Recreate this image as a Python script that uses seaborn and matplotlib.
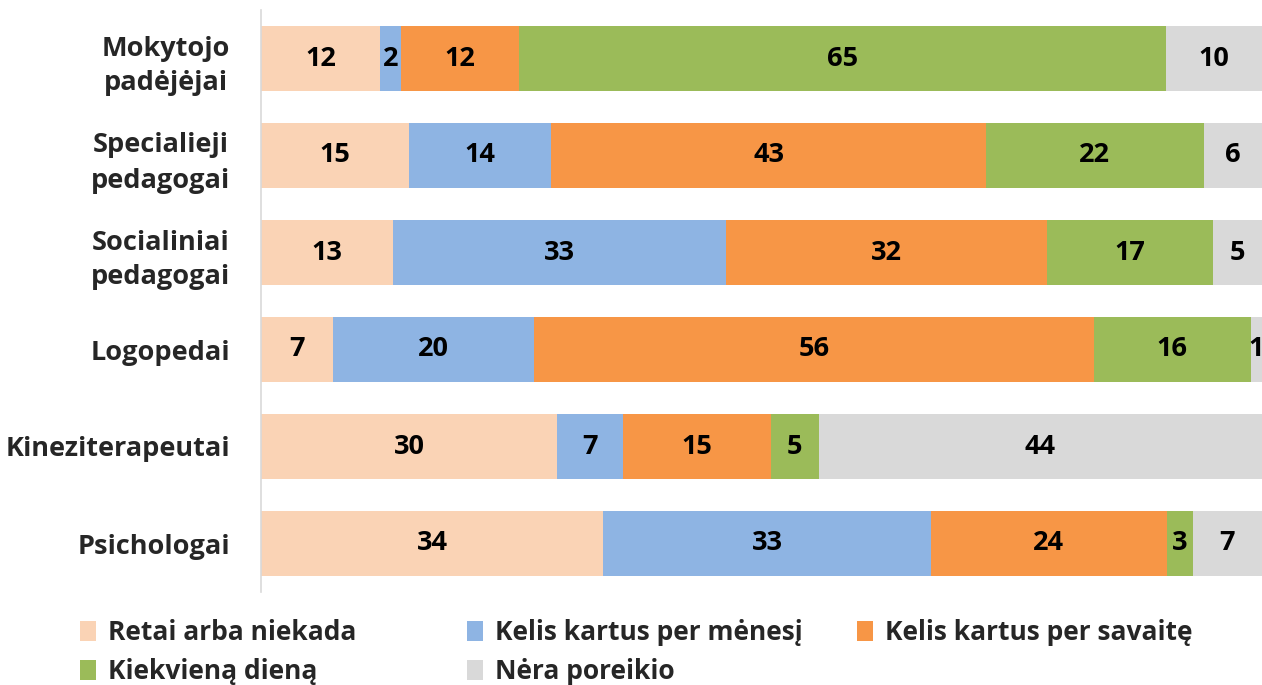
import matplotlib
matplotlib.use("Agg")
import matplotlib.pyplot as plt
import numpy as np
import pandas as pd
import seaborn as sns
from matplotlib.patches import Patch

groups = ["Mokytojo\npadėjėjai", "Specialieji\npedagogai", "Socialiniai\npedagogai",
          "Logopedai", "Kineziterapeutai", "Psichologai"]
series = ["Retai arba niekada", "Kelis kartus per mėnesį", "Kelis kartus per savaitę",
          "Kiekvieną dieną", "Nėra poreikio"]
colors = ["#FAD3B5", "#8EB4E3", "#F79646", "#9BBB59", "#D9D9D9"]

retai = [11.9, 14.8, 13.2, 7.2, 29.6, 34.2]
per_menesi = [2.1, 14.2, 33.3, 20.1, 6.6, 32.7]
per_savaite = [11.8, 43.4, 32.0, 55.9, 14.7, 23.6]
kasdien = [64.6, 21.8, 16.6, 15.7, 4.8, 2.6]
nera = [9.6, 5.8, 4.9, 1.1, 44.3, 6.9]

vals = np.array([retai, per_menesi, per_savaite, kasdien, nera])
cum = vals.cumsum(axis=0)
left = cum - vals

sns.set_theme(style="white")
plt.rcParams["font.family"] = ["Open Sans", "DejaVu Sans"]

fig = plt.figure(figsize=(12.62, 6.85), dpi=100)
ax = fig.add_axes([261 / 1262, 93 / 685, 1001 / 1262, 582 / 685])

# stacked look: draw cumulative totals from the last series back to the first
for i in range(len(series) - 1, -1, -1):
    df = pd.DataFrame({"grupe": groups, "suma": cum[i]})
    sns.barplot(data=df, y="grupe", x="suma", orient="h", color=colors[i],
                width=0.66, saturation=1, ax=ax, linewidth=0)

for i in range(len(series)):
    for j in range(len(groups)):
        ax.text(left[i, j] + vals[i, j] / 2, j, f"{vals[i, j]:.0f}",
                ha="center", va="center", fontsize=19.5, fontweight="bold",
                color="black")

ax.set_xlim(0, 100)
ax.set_ylim(len(groups) - 0.5, -0.5)
ax.set_xlabel("")
ax.set_ylabel("")
ax.set_xticks([])
ax.tick_params(axis="y", length=0, pad=22)
for lab in ax.get_yticklabels():
    lab.set_fontsize(19.5)
    lab.set_fontweight("bold")
    lab.set_multialignment("center")
    lab.set_linespacing(1.45)
for side in ["top", "right", "bottom"]:
    ax.spines[side].set_visible(False)
ax.spines["left"].set_color("#D9D9D9")
ax.spines["left"].set_linewidth(1.2)

# legend columns placed like the original
cols = [[0, 3], [1, 4], [2]]
xs = [80, 467, 857]
for col, x in zip(cols, xs):
    handles = [Patch(facecolor=colors[k], edgecolor="none") for k in col]
    fig.legend(handles, [series[k] for k in col], loc="upper left",
               bbox_to_anchor=(x / 1262, 1 - 619 / 685), frameon=False,
               prop={"size": 19, "weight": "bold"}, handlelength=0.62,
               handleheight=0.8, handletextpad=0.45, labelspacing=0.45,
               borderaxespad=0, borderpad=0)

fig.savefig("out.png", dpi=100)
